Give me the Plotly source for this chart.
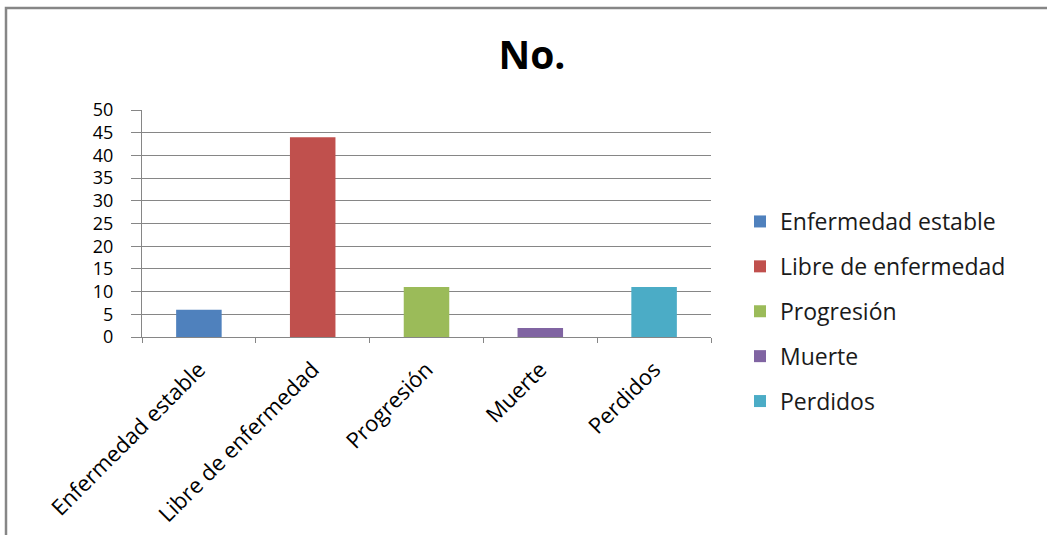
import plotly.graph_objects as go

categories = ["Enfermedad estable", "Libre de enfermedad", "Progresión", "Muerte", "Perdidos"]
values = [6, 44, 11, 2, 11]
colors = ["#4F81BD", "#C0504D", "#9BBB59", "#8064A2", "#4BACC6"]
y_ticks = [0, 5, 10, 15, 20, 25, 30, 35, 40, 45, 50]

FONT = "Open Sans"

fig = go.Figure()
for cat, val, col in zip(categories, values, colors):
    fig.add_trace(go.Bar(
        x=[cat], y=[val], name=cat, marker_color=col, width=0.4,
        legendgroup=cat, marker_line_width=0,
    ))

L, R, T, B = 142, 1047 - 711, 110, 535 - 337
PW, PH = 711 - 142, 337 - 110

def px(x):
    return (x - L) / PW

def py(y):
    return (337 - y) / PH

fig.update_layout(
    width=1047, height=535,
    margin=dict(l=L, r=R, t=T, b=B, autoexpand=False),
    paper_bgcolor="white", plot_bgcolor="white",
    barmode="relative",
    title=dict(text="<b>No.</b>", x=532 / 1047, xref="container", xanchor="center",
               y=1 - 55 / 535, yref="container", yanchor="middle",
               font=dict(family=FONT, size=39, color="black")),
    font=dict(family=FONT, color="black"),
    legend=dict(x=px(740), y=py(200), xanchor="left", yanchor="top",
                font=dict(family=FONT, size=23, color="#1a1a1a"),
                tracegroupgap=12, itemwidth=30, bgcolor="rgba(0,0,0,0)",
                maxheight=500),
    showlegend=True,
    xaxis=dict(type="category", range=[-0.5, 4.5], showgrid=False,
               showline=True, linecolor="#868686", linewidth=1,
               ticks="outside", ticklen=5, tickcolor="#868686",
               tickson="boundaries", tickangle=-45, ticklabelstandoff=10,
               tickfont=dict(family=FONT, size=22, color="black")),
    yaxis=dict(range=[0, 50], tickvals=y_ticks, showgrid=True, gridcolor="#868686",
               gridwidth=1, showline=True, linecolor="#868686", linewidth=1,
               ticks="outside", ticklen=10, tickcolor="#868686", zeroline=False,
               ticklabelstandoff=14,
               tickfont=dict(family=FONT, size=18, color="black")),
    shapes=[dict(type="rect", xref="paper", yref="paper",
                 x0=px(6), x1=px(1060), y0=py(560), y1=py(8),
                 line=dict(color="#868686", width=2.5), fillcolor="rgba(0,0,0,0)",
                 layer="below")],
)

fig.write_html("out.html")
